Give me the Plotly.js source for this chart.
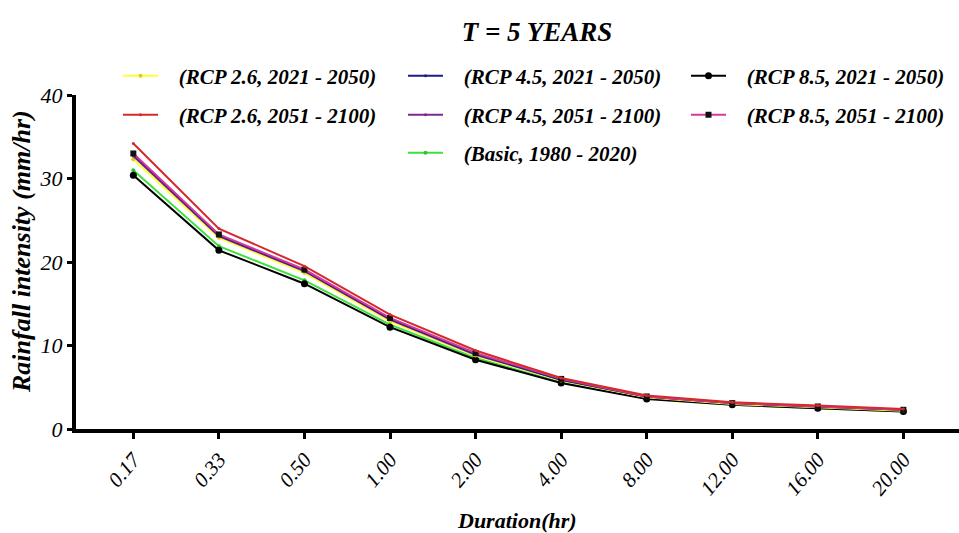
<!DOCTYPE html>
<html><head><meta charset="utf-8">
<script src="https://cdn.plot.ly/plotly-3.0.1.min.js"></script>
<style>html,body{margin:0;padding:0;background:#fff}#chart{width:959px;height:533px}</style>
</head><body><div id="chart"></div>
<script>
const durations = ["0.17","0.33","0.50","1.00","2.00","4.00","8.00","12.00","16.00","20.00"];
const rcp26_2021 = [32.3, 22.9, 18.7, 12.9, 8.8, 5.8, 3.8, 3.0, 2.6, 2.2];
const rcp26_2051 = [34.2, 24.0, 19.5, 13.7, 9.4, 6.1, 4.0, 3.2, 2.8, 2.4];
const rcp45_2021 = [32.9, 23.2, 19.0, 13.2, 9.0, 5.9, 3.9, 3.1, 2.7, 2.3];
const rcp45_2051 = [32.7, 23.1, 18.9, 13.1, 8.9, 5.9, 3.9, 3.1, 2.7, 2.3];
const rcp85_2021 = [30.4, 21.4, 17.4, 12.2, 8.3, 5.5, 3.6, 2.9, 2.5, 2.1];
const rcp85_2051 = [33.0, 23.3, 19.1, 13.3, 9.1, 6.0, 3.9, 3.1, 2.7, 2.3];
const basic = [31.0, 21.9, 17.8, 12.5, 8.5, 5.6, 3.7, 2.9, 2.5, 2.1];
const names = ["(RCP 2.6, 2021 - 2050)","(RCP 2.6, 2051 - 2100)","(RCP 4.5, 2021 - 2050)","(RCP 4.5, 2051 - 2100)","(RCP 8.5, 2021 - 2050)","(RCP 8.5, 2051 - 2100)","(Basic, 1980 - 2020)"];
const yTitle = "Rainfall intensity (mm/hr)";
const xTitle = "Duration(hr)";
const chartTitle = "T = 5 YEARS";

const F = "Liberation Serif, Times New Roman, serif";
const PAD = "\u00A0\u00A0\u00A0";
function tr(y, name, color, msym, msize, mcolor, leg){
  return {x: durations, y: y, name: PAD + name, type: 'scatter', mode: 'lines+markers',
    line: {color: color, width: 2}, marker: {symbol: msym, size: msize, color: mcolor},
    legend: leg};
}
const data = [
  tr(basic, names[6], '#3ee03e', 'circle', 4, '#2fc42f', 'legend7'),
  tr(rcp85_2021, names[4], '#000000', 'circle', 7, '#000000', 'legend5'),
  tr(rcp26_2021, names[0], '#ffff33', 'circle', 4, '#e0d000', 'legend'),
  tr(rcp45_2051, names[3], '#7b2a8f', 'circle', 3, '#7b2a8f', 'legend4'),
  tr(rcp45_2021, names[2], '#1c1c8a', 'circle', 3, '#1c1c8a', 'legend3'),
  tr(rcp85_2051, names[5], '#d8389e', 'square', 6, '#111111', 'legend6'),
  tr(rcp26_2051, names[1], '#d42a2a', 'circle', 3, '#d42a2a', 'legend2')
];
const legFont = {family: F, size: 21, weight: 'bold', style: 'italic', color: '#000'};
function leg(px, py){
  return {xref: 'container', yref: 'container', x: px/959, y: 1 - py/533, xanchor: 'left', yanchor: 'middle',
    font: legFont, bgcolor: 'rgba(0,0,0,0)', borderwidth: 0, itemwidth: 35};
}
const layout = {
  width: 959, height: 533,
  margin: {l: 76, r: 0, t: 95, b: 104, autoexpand: false},
  paper_bgcolor: '#fff', plot_bgcolor: '#fff',
  title: {text: chartTitle, font: {family: F, size: 27, weight: 'bold', style: 'italic', color: '#000'},
    xref: 'container', yref: 'container', x: 537/959, xanchor: 'center', y: 1 - 32/533, yanchor: 'middle'},
  xaxis: {type: 'category', range: [-0.67, 9.65], showgrid: false, zeroline: false,
    showline: true, linecolor: '#000', linewidth: 4,
    ticks: 'outside', ticklen: 6, tickwidth: 3, tickcolor: '#000',
    tickangle: -50, tickfont: {family: F, size: 21, style: 'italic', color: '#000'}},
  yaxis: {range: [0, 40], tickvals: [0,10,20,30,40], showgrid: false, zeroline: false,
    showline: true, linecolor: '#000', linewidth: 4,
    ticks: 'outside', ticklen: 5, tickwidth: 3, tickcolor: '#000',
    tickfont: {family: F, size: 22, style: 'italic', color: '#000'}},
  annotations: [
    {text: yTitle, textangle: -90, showarrow: false, xref: 'paper', yref: 'paper',
      x: (21 - 76) / 883, y: (429 - 252) / 334, xanchor: 'center', yanchor: 'middle',
      font: {family: F, size: 26, weight: 'bold', style: 'italic', color: '#000'}},
    {text: xTitle, showarrow: false, xref: 'paper', yref: 'paper',
      x: (517 - 76) / 883, y: (429 - 520) / 334, xanchor: 'center', yanchor: 'middle',
      font: {family: F, size: 22, weight: 'bold', style: 'italic', color: '#000'}}
  ],
  showlegend: true,
  legend: leg(118, 76),
  legend2: leg(118, 115),
  legend3: leg(403, 76),
  legend4: leg(403, 115),
  legend5: leg(686, 76),
  legend6: leg(686, 115),
  legend7: leg(403, 153)
};
Plotly.newPlot('chart', data, layout, {displayModeBar: false});
</script></body></html>
